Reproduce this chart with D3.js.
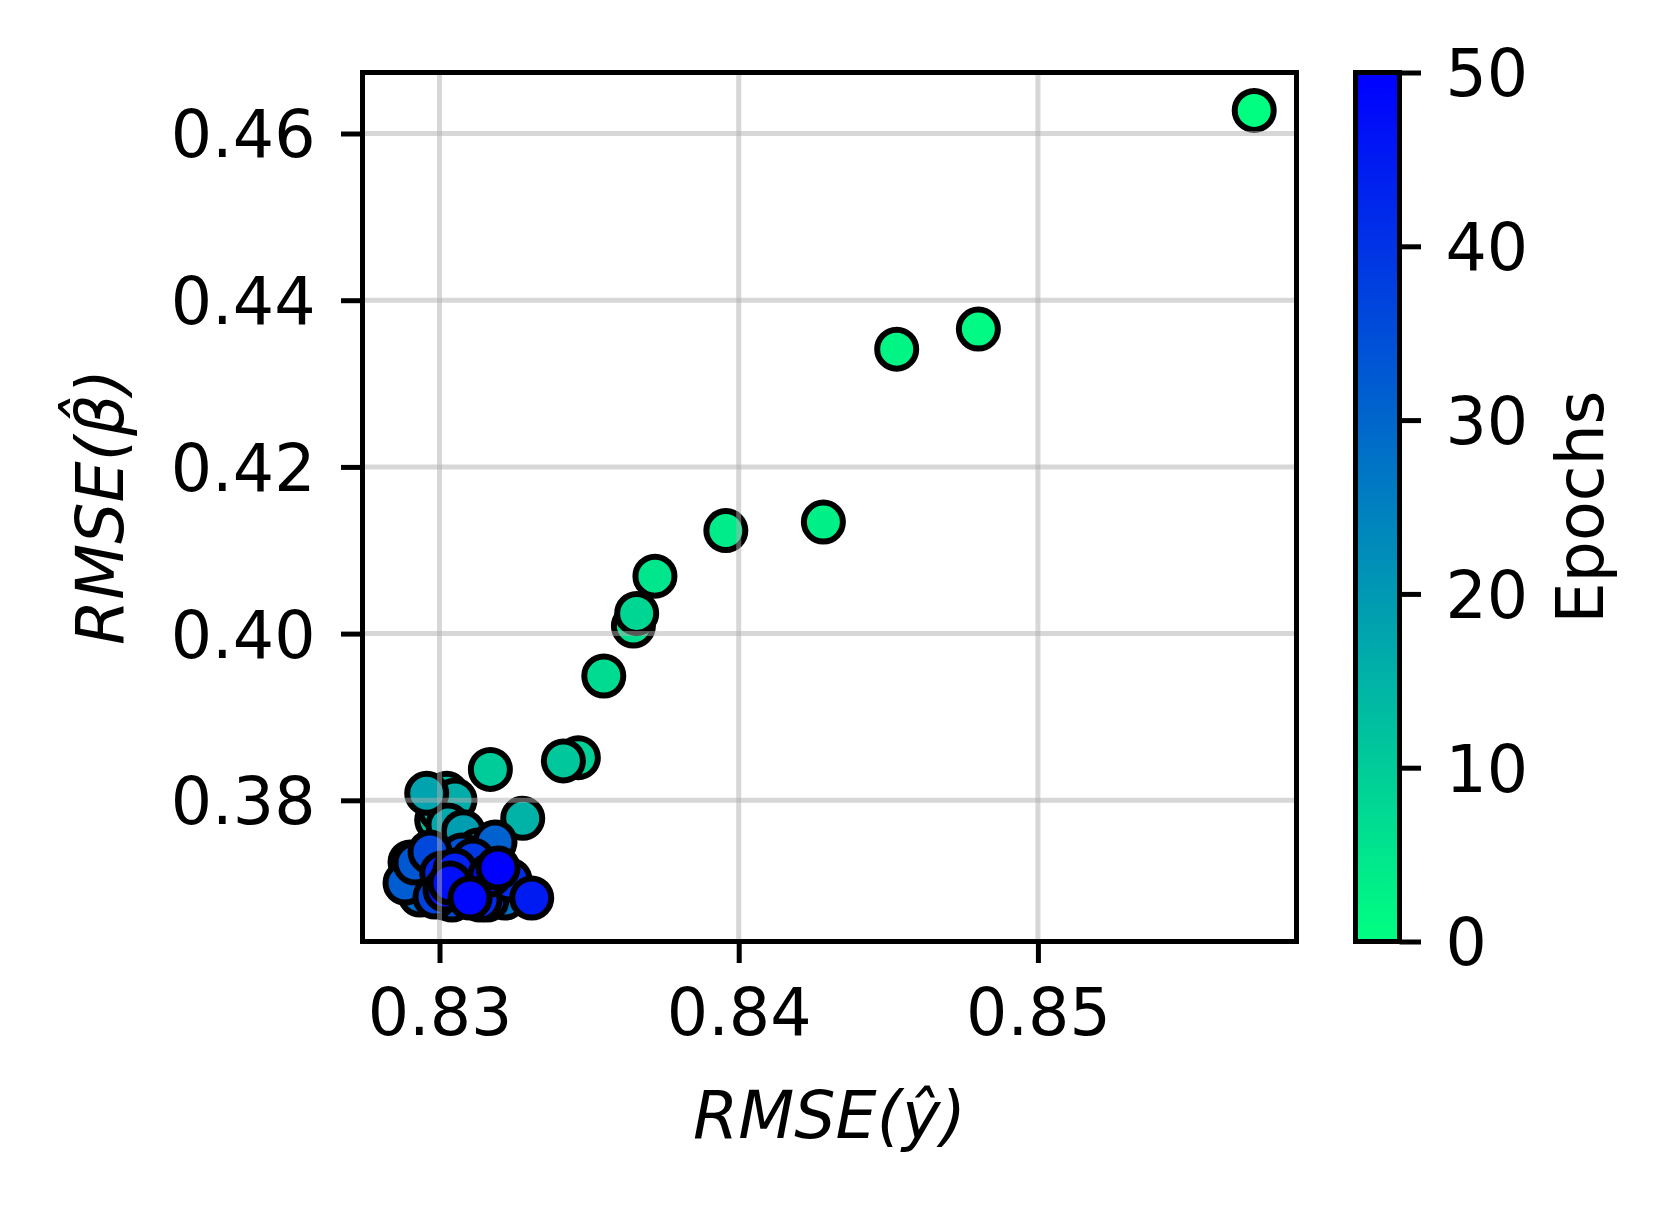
<!DOCTYPE html>
<html>
<head>
<meta charset="utf-8">
<script src="https://cdn.jsdelivr.net/npm/d3@7"></script>
<style>
  html, body { margin: 0; padding: 0; background: #fff; }
  svg { display: block; }
  text { font-family: "DejaVu Sans", sans-serif; fill: #000; }
</style>
</head>
<body>
<svg id="chart" width="1664" height="1209"></svg>
<script>
// ---- data ----
const epochs = [0,1,2,3,4,5,6,7,8,9,10,11,12,13,14,15,16,17,18,19,20,21,22,23,24,25,26,27,28,29,30,31,32,33,34,35,36,37,38,39,40,41,42,43,44,45,46,47,48,49,50];
const rmseY = [0.85723,0.84801,0.84528,0.84283,0.83957,0.83720,0.83648,0.83549,0.83659,0.83464,
  0.83170,0.83414,0.829906,0.830241,0.830017,0.832781,0.830518,0.830284,0.829572,0.830795,
  0.831287,0.829850,0.829515,0.830852,0.832022,0.829014,0.831354,0.830184,0.832189,0.829348,
  0.831521,0.831855,0.828847,0.829181,0.830742,0.830418,0.829682,0.829850,0.830685,0.831120,
  0.831588,0.832356,0.831354,0.830074,0.830518,0.833082,0.830184,0.830351,0.831688,0.831019,0.831955];
const rmseBeta = [0.46277,0.43654,0.43413,0.41338,0.41236,0.40689,0.40090,0.39491,0.40242,0.38511,
  0.38371,0.38473,0.377636,0.380840,0.378836,0.377840,0.380036,0.377036,0.380840,0.376233,
  0.374037,0.368878,0.370438,0.369238,0.369238,0.372597,0.371038,0.368278,0.368278,0.368638,
  0.369838,0.374997,0.370078,0.372477,0.373437,0.368038,0.373797,0.368398,0.370438,0.372837,
  0.368038,0.370438,0.368038,0.371278,0.371638,0.368278,0.369238,0.370078,0.371038,0.368278,0.371878];
const xTicks = [0.83, 0.84, 0.85];
const yTicks = [0.38, 0.40, 0.42, 0.44, 0.46];
const cTicks = [0, 10, 20, 30, 40, 50];
const xLabel = "RMSE(ŷ)";
const yLabel = "RMSE(β̂)";
const cLabel = "Epochs";

// ---- layout ----
const svg = d3.select("#chart");
svg.append("rect").attr("width", 1664).attr("height", 1209).attr("fill", "#fff");
const L = 362.5, R = 1296.5, T = 72.5, B = 941.5;
const CL = 1355.5, CR = 1399.5;
const FS = 65, TICK = 21.5, PAD = 21.5, LW = 5;

const x = d3.scaleLinear().domain([0.827426, 0.858643]).range([L, R]);
const y = d3.scaleLinear().domain([0.36306, 0.467319]).range([B, T]);
const cScale = d3.scaleLinear().domain([0, 50]).range([B, T]);
const color = d3.scaleLinear().domain([0, 50]).range(["#00ff80", "#0000ff"]).interpolate(d3.interpolateRgb);

const pts = epochs.map((e, i) => ({e, x: rmseY[i], y: rmseBeta[i]}));

// points
svg.append("g").selectAll("circle").data(pts).join("circle")
  .attr("cx", d => x(d.x)).attr("cy", d => y(d.y)).attr("r", 19.5)
  .attr("fill", d => color(d.e)).attr("stroke", "#000").attr("stroke-width", 6);

// grid (drawn above points)
const grid = svg.append("g").attr("stroke", "#b0b0b0").attr("stroke-opacity", 0.5).attr("stroke-width", 5);
grid.selectAll(".gx").data(xTicks).join("line")
  .attr("x1", d => x(d)).attr("x2", d => x(d)).attr("y1", T).attr("y2", B);
grid.selectAll(".gy").data(yTicks).join("line")
  .attr("y1", d => y(d)).attr("y2", d => y(d)).attr("x1", L).attr("x2", R);

function styleAxis(g) {
  g.select(".domain").remove();
  g.selectAll(".tick line").attr("stroke", "#000").attr("stroke-width", LW);
  g.selectAll(".tick text").attr("font-size", FS).attr("font-family", "DejaVu Sans").attr("fill", "#000");
}

// x axis
const gx = svg.append("g").attr("transform", `translate(0,${B})`)
  .call(d3.axisBottom(x).tickValues(xTicks).tickFormat(d3.format(".2f")).tickSize(TICK).tickPadding(PAD));
styleAxis(gx);
gx.selectAll(".tick text").attr("dy", null).attr("y", 1035 - B);

// y axis
const gy = svg.append("g").attr("transform", `translate(${L},0)`)
  .call(d3.axisLeft(y).tickValues(yTicks).tickFormat(d3.format(".2f")).tickSize(TICK).tickPadding(PAD));
styleAxis(gy);
gy.selectAll(".tick text").attr("dy", "0.36em").attr("x", -TICK - PAD - 4);

// frame
svg.append("rect").attr("x", L).attr("y", T).attr("width", R - L).attr("height", B - T)
  .attr("fill", "none").attr("stroke", "#000").attr("stroke-width", LW);

// axis labels
svg.append("text").attr("x", (L + R) / 2).attr("y", 1138).attr("text-anchor", "middle")
  .attr("font-size", FS).attr("font-style", "italic").text(xLabel);
svg.append("text").attr("transform", `translate(123,${(T + B) / 2}) rotate(-90)`)
  .attr("text-anchor", "middle").attr("font-size", FS).attr("font-style", "italic").text(yLabel);

// colorbar
const defs = svg.append("defs");
const grad = defs.append("linearGradient").attr("id", "cbar").attr("x1", 0).attr("x2", 0).attr("y1", 1).attr("y2", 0);
d3.range(0, 51, 5).forEach(v => grad.append("stop").attr("offset", v / 50).attr("stop-color", color(v)));
svg.append("rect").attr("x", CL).attr("y", T).attr("width", CR - CL).attr("height", B - T).attr("fill", "url(#cbar)");
const gc = svg.append("g").attr("transform", `translate(${CR},0)`)
  .call(d3.axisRight(cScale).tickValues(cTicks).tickFormat(d3.format("d")).tickSize(TICK).tickPadding(PAD));
styleAxis(gc);
gc.selectAll(".tick text").attr("dy", "0.36em").attr("x", TICK + PAD + 3);
svg.append("rect").attr("x", CL).attr("y", T).attr("width", CR - CL).attr("height", B - T)
  .attr("fill", "none").attr("stroke", "#000").attr("stroke-width", LW);
svg.append("text").attr("transform", `translate(1603,${(T + B) / 2}) rotate(-90)`)
  .attr("text-anchor", "middle").attr("font-size", FS).text(cLabel);
</script>
</body>
</html>
